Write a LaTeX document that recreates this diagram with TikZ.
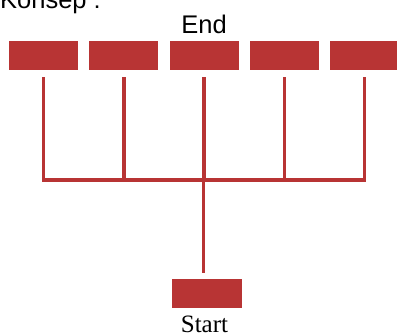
\documentclass[tikz,border=0pt]{standalone}
\usepackage{fontspec}
\setmainfont{Liberation Serif}
\setsansfont{Liberation Sans}
\usetikzlibrary{positioning, calc}

\definecolor{barred}{RGB}{184,52,52}

\begin{document}
\begin{tikzpicture}[
      x=1pt, y=1pt,
      bar/.style={rectangle, fill=barred, minimum width=69pt, minimum height=29pt, inner sep=0pt},
      wire/.style={draw=barred, line width=3.5pt},
      sanslabel/.style={font=\sffamily\fontsize{25.5}{30}\selectfont, inner sep=0pt},
      seriflabel/.style={font=\fontsize{25}{30}\selectfont, inner sep=0pt}
    ]
    \useasboundingbox (0,0) rectangle (397,336);

    % title, cut off at the top
    \node[sanslabel, anchor=base west] (title) at (0,327) {Konsep :};

    % the five end bars
    \foreach \i/\x in {1/43.5, 2/123.8, 3/204.1, 4/284.4, 5/364.7}
      \node[bar] (b\i) at (\x,280.5) {};

    \node[sanslabel, anchor=base] (end) at ([yshift=7pt]b3.north) {End};

    % start bar
    \node[bar, minimum width=70pt] (start) at (207,42.5) {};
    \node[seriflabel, anchor=base] (startlbl) at (204.5,3.5) {Start};

    \coordinate (hub) at (203.5,156);

    % branches
    \foreach \i in {1,...,5}
      \draw[wire, shorten <=7pt] (b\i.south) -- (b\i.south |- hub);
    \draw[wire, line cap=rect] (b1.south |- hub) -- (b5.south |- hub);
    \draw[wire, shorten >=6pt] (hub) -- (hub |- start.north);
  \end{tikzpicture}
\end{document}
